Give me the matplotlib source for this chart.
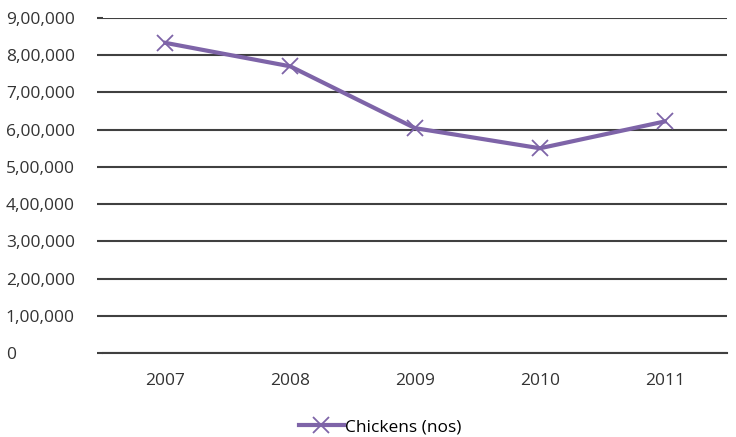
import matplotlib
matplotlib.use("Agg")
import matplotlib.pyplot as plt
from matplotlib.ticker import FuncFormatter

years = ["2007", "2008", "2009", "2010", "2011"]
chickens = [833000, 770000, 604000, 550000, 622000]
yticks = [0, 100000, 200000, 300000, 400000, 500000, 600000, 700000, 800000, 900000]


def indian_fmt(v, pos=None):
    v = int(round(v))
    if v == 0:
        return "0"
    s = str(v)
    last3 = s[-3:]
    rest = s[:-3]
    parts = []
    while len(rest) > 2:
        parts.insert(0, rest[-2:])
        rest = rest[:-2]
    if rest:
        parts.insert(0, rest)
    return ",".join(parts + [last3])


plt.rcParams['font.family'] = ['Open Sans', 'DejaVu Sans']

fig = plt.figure(figsize=(7.36, 4.37), dpi=100)
ax = fig.add_axes([0.14, 0.192, 0.848, 0.767])

x = range(len(years))
ax.plot(x, chickens, color='#7E64A8', linewidth=3, marker='x',
        markersize=11, markeredgewidth=1.3, label="Chickens (nos)", zorder=3)

ax.set_ylim(0, 900000)
ax.set_yticks(yticks)
ax.yaxis.set_major_formatter(FuncFormatter(indian_fmt))
ax.set_xlim(-0.5, len(years) - 0.5)
ax.set_xticks(list(x))
ax.set_xticklabels(years)

ax.grid(axis='y', color='#404040', linewidth=1.5)
ax.set_axisbelow(True)
for s in ['top', 'right', 'left']:
    ax.spines[s].set_visible(False)
ax.spines['bottom'].set_color('#404040')
ax.spines['bottom'].set_linewidth(1.5)
ax.tick_params(axis='y', length=4, width=1.5, color='#404040',
               labelsize=12.5, labelcolor='#333333', pad=66)
ax.tick_params(axis='x', length=0, labelsize=12.5, labelcolor='#333333', pad=14)
for lab in ax.get_yticklabels():
    lab.set_ha('left')

fig.legend(loc='center', bbox_to_anchor=(380 / 736, 1 - 427 / 437), frameon=False,
           fontsize=12.5, handlelength=2.6, handletextpad=0.05, borderpad=0)

plt.savefig("out.png", dpi=100)
